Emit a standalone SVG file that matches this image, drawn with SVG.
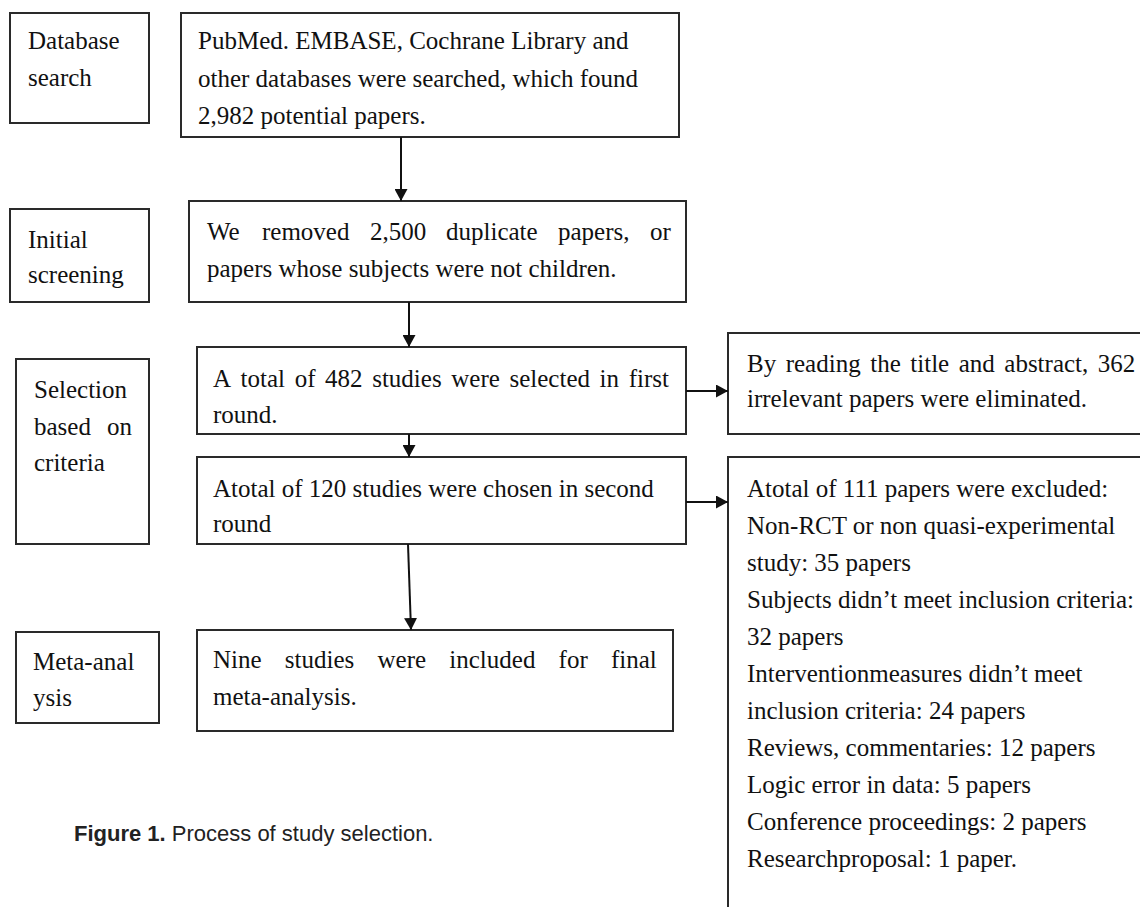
<svg xmlns="http://www.w3.org/2000/svg" width="1140" height="907" viewBox="0 0 1140 907">
<style>
.box{fill:#fff;stroke:#2a2a2a;stroke-width:2}
.t{font-family:"Liberation Serif","Times New Roman",serif;font-size:25px;fill:#111}
.cap{font-family:"Liberation Sans",Arial,sans-serif;font-size:22px;fill:#222}
.ln{stroke:#111;stroke-width:2;fill:none}
</style>
<defs>
<marker id="ah" viewBox="0 0 12 13" refX="12" refY="6.5" markerWidth="12" markerHeight="13" markerUnits="userSpaceOnUse" orient="auto">
<path d="M0,0 L12,6.5 L0,13 z" fill="#111"/>
</marker>
</defs>
<rect width="1140" height="907" fill="#fff"/>

<g id="label-database">
<rect class="box" x="10" y="13" width="139" height="110"/>
<text class="t" x="28" y="49">Database</text>
<text class="t" x="28" y="86">search</text>
</g>
<g id="node-search">
<rect class="box" x="181" y="13" width="498" height="124"/>
<text class="t" x="198" y="49">PubMed. EMBASE, Cochrane Library and</text>
<text class="t" x="198" y="87">other databases were searched, which found</text>
<text class="t" x="198" y="124">2,982 potential papers.</text>
</g>

<g id="label-initial">
<rect class="box" x="10" y="209" width="139" height="93"/>
<text class="t" x="28" y="248">Initial</text>
<text class="t" x="28" y="283">screening</text>
</g>
<g id="node-removed">
<rect class="box" x="189" y="201" width="497" height="101"/>
<text class="t" y="240"><tspan x="207">We</tspan><tspan x="262">removed</tspan><tspan x="370">2,500</tspan><tspan x="446">duplicate</tspan><tspan x="558">papers,</tspan><tspan x="650">or</tspan></text>
<text class="t" x="207" y="277">papers whose subjects were not children.</text>
</g>

<g id="label-selection">
<rect class="box" x="16" y="359" width="133" height="185"/>
<text class="t" x="34" y="398">Selection</text>
<text class="t" y="435"><tspan x="34">based</tspan><tspan x="107">on</tspan></text>
<text class="t" x="34" y="471">criteria</text>
</g>
<g id="node-first">
<rect class="box" x="197" y="347" width="489" height="87"/>
<text class="t" y="387"><tspan x="213">A</tspan><tspan x="240.6">total</tspan><tspan x="294.7">of</tspan><tspan x="325.1">482</tspan><tspan x="372.2">studies</tspan><tspan x="451.3">were</tspan><tspan x="509.5">selected</tspan><tspan x="599.6">in</tspan><tspan x="628.7">first</tspan></text>
<text class="t" x="213" y="423">round.</text>
</g>
<g id="node-second">
<rect class="box" x="197" y="457" width="489" height="87"/>
<text class="t" x="213" y="497">Atotal of 120 studies were chosen in second</text>
<text class="t" x="213" y="532">round</text>
</g>
<g id="node-eliminated">
<rect class="box" x="728" y="333" width="420" height="101"/>
<text class="t" y="372"><tspan x="747">By</tspan><tspan x="785.7">reading</tspan><tspan x="870.2">the</tspan><tspan x="910.3">title</tspan><tspan x="958.7">and</tspan><tspan x="1004.3">abstract,</tspan><tspan x="1097.8">362</tspan></text>
<text class="t" x="747" y="407">irrelevant papers were eliminated.</text>
</g>
<g id="node-excluded">
<rect class="box" x="728" y="457" width="420" height="470"/>
<text class="t" x="747" y="497">Atotal of 111 papers were excluded:</text>
<text class="t" x="747" y="534">Non-RCT or non quasi-experimental</text>
<text class="t" x="747" y="571">study: 35 papers</text>
<text class="t" x="747" y="608">Subjects didn’t meet inclusion criteria:</text>
<text class="t" x="747" y="645">32 papers</text>
<text class="t" x="747" y="682">Interventionmeasures didn’t meet</text>
<text class="t" x="747" y="719">inclusion criteria: 24 papers</text>
<text class="t" x="747" y="756">Reviews, commentaries: 12 papers</text>
<text class="t" x="747" y="793">Logic error in data: 5 papers</text>
<text class="t" x="747" y="830">Conference proceedings: 2 papers</text>
<text class="t" x="747" y="867">Researchproposal: 1 paper.</text>
</g>

<g id="label-meta">
<rect class="box" x="16" y="632" width="143" height="91"/>
<text class="t" x="33" y="670">Meta-anal</text>
<text class="t" x="33" y="706">ysis</text>
</g>
<g id="node-final">
<rect class="box" x="197" y="630" width="476" height="101"/>
<text class="t" y="668"><tspan x="213">Nine</tspan><tspan x="284.8">studies</tspan><tspan x="377.5">were</tspan><tspan x="449.3">included</tspan><tspan x="558.6">for</tspan><tspan x="611">final</tspan></text>
<text class="t" x="213" y="705">meta-analysis.</text>
</g>

<g id="connectors">
<line class="ln" x1="401" y1="137" x2="401" y2="201" marker-end="url(#ah)"/>
<line class="ln" x1="409" y1="302" x2="409" y2="347" marker-end="url(#ah)"/>
<line class="ln" x1="409" y1="434" x2="409" y2="457" marker-end="url(#ah)"/>
<line class="ln" x1="408" y1="544" x2="411" y2="630" marker-end="url(#ah)"/>
<line class="ln" x1="686" y1="391" x2="728" y2="391" marker-end="url(#ah)"/>
<line class="ln" x1="686" y1="502" x2="728" y2="502" marker-end="url(#ah)"/>
</g>

<g id="caption">
<text class="cap" x="74" y="841"><tspan font-weight="bold">Figure 1.</tspan> Process of study selection.</text>
</g>
</svg>
